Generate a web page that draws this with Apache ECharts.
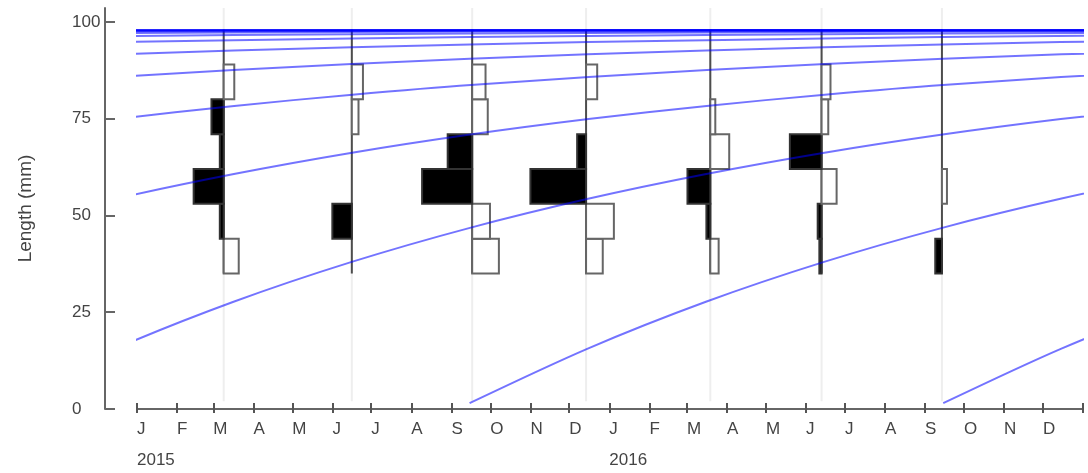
<!DOCTYPE html>
<html>
<head>
<meta charset="utf-8">
<script src="https://cdn.jsdelivr.net/npm/echarts@6/dist/echarts.min.js"></script>
<style>
  html, body { margin: 0; padding: 0; background: #fff; }
  #chart { width: 1088px; height: 473px; }
</style>
</head>
<body>
<div id="chart"></div>
<script>
// sampling dates of the length-frequency data
const sampleDates = ['2015-03-09', '2015-06-16', '2015-09-17', '2015-12-14', '2016-03-19', '2016-06-13', '2016-09-14']
// length classes (mm): lower edges, class width 9
const binLower = [35, 44, 53, 62, 71, 80, 89]
const binWidth = 9
// restructured scores per sample, smallest class first (positive = black, drawn to the left)
const scores = [
  [-0.27, 0.07, 0.54, 0.07, 0.22, -0.19, 0],
  [0, 0.35, 0, 0, -0.12, -0.20, 0],
  [-0.48, -0.32, 0.90, 0.44, -0.28, -0.24, 0],
  [-0.30, -0.50, 1.00, 0.16, 0, -0.20, 0],
  [-0.15, 0.07, 0.41, -0.34, -0.09, 0, 0],
  [0.04, 0.07, -0.27, 0.57, -0.12, -0.16, 0],
  [0.12, 0, -0.09, 0, 0, 0, 0]
]
// growth curve: length (mm) at age (years since mid-September birth)
const ages = [0, 0.25, 0.5, 0.75, 1, 1.25, 1.5, 1.75, 2, 2.25, 2.5, 2.75, 3, 3.5, 4, 4.5, 5, 5.5, 6, 7, 8, 9, 10, 12, 14]
const lengthAtAge = [1.5, 15.6, 27.7, 38.0, 46.8, 54.3, 60.7, 66.2, 70.9, 74.9, 78.3, 81.2, 83.7, 87.6, 90.5, 92.6, 94.2, 95.3, 96.1, 97.0, 97.5, 97.7, 97.8, 97.9, 97.9]
// cohorts, one per year
const cohortYears = [2002, 2003, 2004, 2005, 2006, 2007, 2008, 2009, 2010, 2011, 2012, 2013, 2014, 2015, 2016]
const monthInitials = ['J', 'F', 'M', 'A', 'M', 'J', 'J', 'A', 'S', 'O', 'N', 'D']
const yTicks = [0, 25, 50, 75, 100]

const DAY = 86400000
const YEAR = 365.25 * DAY
const histDays = 43 // width of a score of 1, in days
const xMin = Date.UTC(2015, 0, 1)
const xMax = Date.UTC(2017, 0, 1)
const yMax = 103.6
const font = 'Liberation Sans, Arial, sans-serif'

const monthStarts = []
for (let y = 2015; y <= 2016; y++) {
  for (let m = 0; m < 12; m++) monthStarts.push(Date.UTC(y, m, 1))
}
const yearStarts = [Date.UTC(2015, 0, 1), Date.UTC(2016, 0, 1)]

const sampleTimes = sampleDates.map(d => new Date(d).getTime())
const histData = []
sampleTimes.forEach((t, i) => {
  scores[i].forEach((s, j) => {
    if (s !== 0) histData.push([t, binLower[j], s])
  })
})

const cohortSeries = cohortYears.map(yr => {
  const birth = Date.UTC(yr, 8, 15)
  return {
    type: 'line',
    data: ages.map((a, i) => [birth + a * YEAR, lengthAtAge[i]]),
    showSymbol: false,
    smooth: 0.3,
    clip: true,
    silent: true,
    z: 5,
    lineStyle: { color: 'rgba(0, 0, 255, 0.55)', width: 2 }
  }
})

const chart = echarts.init(document.getElementById('chart'))
chart.setOption({
  animation: false,
  grid: { left: 137, right: 5, top: 8, bottom: 64 },
  xAxis: [
    {
      type: 'value',
      min: xMin,
      max: xMax,
      axisLine: { lineStyle: { color: '#666', width: 2 } },
      axisTick: { customValues: monthStarts.concat([xMax]), length: 4, lineStyle: { color: '#555', width: 2 } },
      axisLabel: {
        customValues: monthStarts,
        formatter: v => monthInitials[new Date(v).getUTCMonth()],
        align: 'left',
        margin: 12,
        fontSize: 17,
        fontFamily: font,
        color: '#444'
      },
      splitLine: { show: false }
    },
    {
      type: 'value',
      min: xMin,
      max: xMax,
      position: 'bottom',
      axisLine: { show: false },
      axisTick: { inside: true, customValues: monthStarts.concat([xMax]), length: 6, lineStyle: { color: '#555', width: 2 } },
      axisLabel: {
        customValues: yearStarts,
        formatter: v => String(new Date(v).getUTCFullYear()),
        align: 'left',
        margin: 43,
        fontSize: 17,
        fontFamily: font,
        color: '#444'
      },
      splitLine: { show: false }
    }
  ],
  yAxis: {
    type: 'value',
    min: 0,
    max: yMax,
    offset: 32,
    name: 'Length (mm)',
    nameLocation: 'middle',
    nameGap: 70,
    nameTextStyle: { fontSize: 19, fontFamily: font, color: '#444' },
    axisLine: { show: true, lineStyle: { color: '#666', width: 2 } },
    axisTick: { show: true, inside: true, length: 10, customValues: yTicks, lineStyle: { color: '#666', width: 2 } },
    axisLabel: { customValues: yTicks, align: 'left', margin: 33, fontSize: 17, fontFamily: font, color: '#444' },
    splitLine: { show: false }
  },
  series: [
    {
      // faint lines through each sampling date
      type: 'custom',
      silent: true,
      z: 1,
      data: sampleTimes.map(t => [t]),
      renderItem: (params, api) => {
        const a = api.coord([api.value(0), 2])
        const b = api.coord([api.value(0), yMax])
        return { type: 'line', shape: { x1: a[0], y1: a[1], x2: b[0], y2: b[1] }, style: { stroke: '#eeeeee', lineWidth: 2 } }
      }
    },
    {
      // zero baseline of each histogram
      type: 'custom',
      silent: true,
      z: 2,
      data: sampleTimes.map(t => [t]),
      renderItem: (params, api) => {
        const a = api.coord([api.value(0), binLower[0]])
        const b = api.coord([api.value(0), binLower[binLower.length - 1] + binWidth])
        return { type: 'line', shape: { x1: a[0], y1: a[1], x2: b[0], y2: b[1] }, style: { stroke: '#4d4d4d', lineWidth: 2 } }
      }
    },
    {
      // restructured frequency bars
      type: 'custom',
      silent: true,
      z: 3,
      encode: { x: 0, y: 1 },
      data: histData,
      renderItem: (params, api) => {
        const t = api.value(0)
        const lo = api.value(1)
        const s = api.value(2)
        const p0 = api.coord([t, lo])
        const p1 = api.coord([t - s * histDays * DAY, lo + binWidth])
        return {
          type: 'rect',
          shape: {
            x: Math.min(p0[0], p1[0]),
            y: p1[1],
            width: Math.abs(p1[0] - p0[0]),
            height: p0[1] - p1[1]
          },
          style: {
            fill: s > 0 ? '#000' : '#fff',
            stroke: s > 0 ? '#333' : '#666',
            lineWidth: 2
          }
        }
      }
    }
  ].concat(cohortSeries)
})
</script>
</body>
</html>
